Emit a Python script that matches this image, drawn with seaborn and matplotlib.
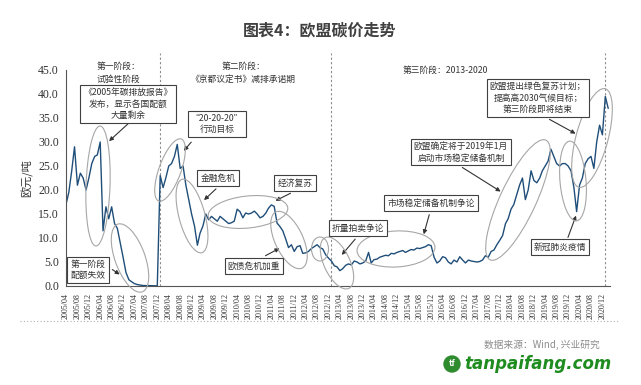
import pandas as pd
import numpy as np
import matplotlib
matplotlib.use('Agg')
import matplotlib.pyplot as plt
import matplotlib.transforms as mtransforms
from matplotlib.patches import Ellipse, Circle
from matplotlib.lines import Line2D
import seaborn as sns

# --- data: monthly EUA price (EUR/t) ---
phase1_start = '2005-04-01'
phase1_prices = [17.0, 19.5, 24.0, 29.0, 21.0, 23.5, 22.5, 20.0, 22.5,
                 25.5, 27.0, 27.3, 30.0, 11.5, 16.5, 14.0, 16.5, 13.0, 12.0, 9.0, 6.0,
                 2.8, 1.3, 0.9, 0.5, 0.3, 0.2, 0.1, 0.1, 0.08, 0.06, 0.04, 0.03]

phase2_start = '2008-01-01'
phase2_prices = [23.0, 20.5, 22.5, 25.0, 25.5, 27.0, 29.5, 24.5, 25.0, 21.0, 18.0, 15.0,
                 12.5, 8.5, 11.0, 12.5, 15.0, 13.8, 14.5, 14.0, 13.5, 14.5, 14.0, 13.5,
                 13.0, 13.2, 13.5, 16.0, 15.5, 14.2, 15.2, 15.0, 15.2, 15.6, 15.0, 14.2,
                 14.5, 15.2, 16.2, 16.9, 16.6, 13.1, 12.4, 11.5, 9.8, 8.0, 8.6, 7.2,
                 8.2, 8.4, 6.8, 6.9, 7.2, 7.8, 8.2, 8.6, 8.0, 7.7, 6.5, 5.8]

phase3_start = '2013-01-01'
phase3_prices = [5.2, 4.2, 4.0, 3.2, 3.6, 4.3, 4.6, 4.4, 5.2, 5.0, 4.6, 4.8,
                 5.2, 7.0, 4.8, 5.5, 5.6, 6.0, 6.2, 6.4, 6.3, 6.8, 6.7, 7.0,
                 7.2, 7.4, 7.0, 7.3, 7.6, 7.5, 7.9, 7.8, 8.0, 8.2, 8.6, 8.4,
                 6.0, 4.8, 5.2, 6.1, 5.9, 5.0, 4.6, 5.4, 5.0, 6.1, 5.4, 4.8,
                 5.4, 5.2, 5.1, 5.0, 5.1, 5.4, 6.3, 6.0, 7.2, 7.5, 8.6, 9.5,
                 10.5, 13.0, 14.0, 16.0, 17.0, 19.0, 21.0, 22.5, 18.0, 20.0, 24.0, 22.0,
                 21.5, 22.5, 24.0, 25.0, 26.0, 28.5, 27.0, 25.5, 25.0, 25.5, 25.5, 25.0,
                 24.0, 20.5, 15.5, 21.0, 22.5, 25.5, 26.5, 27.0, 24.5, 30.0, 33.5, 31.5,
                 39.5, 37.0]

phase_bounds = ['2008-01-01', '2013-01-01', '2021-01-01']
yticks = np.arange(0, 46, 5)

frames = []
for start, vals in [(phase1_start, phase1_prices), (phase2_start, phase2_prices), (phase3_start, phase3_prices)]:
    frames.append(pd.DataFrame({'date': pd.date_range(start, periods=len(vals), freq='MS'), 'price': vals}))
df = pd.concat(frames, ignore_index=True)

# --- figure ---
sns.set_style('white')
plt.rcParams['font.family'] = ['Noto Sans CJK SC', 'DejaVu Sans']
W, H = 641, 385
fig = plt.figure(figsize=(W / 100, H / 100), dpi=100)
ax = fig.add_axes([66 / W, 1 - 286 / H, (610 - 66) / W, (286 - 70) / H])
px = mtransforms.Affine2D().scale(1 / W, -1 / H).translate(0, 1) + fig.transFigure

sns.lineplot(data=df, x='date', y='price', ax=ax, color='#1f4e79', linewidth=1.0)

for b in phase_bounds:
    ax.axvline(pd.Timestamp(b), ymin=0, ymax=1.08, color='#8c8c8c', linestyle=(0, (2, 2)),
               linewidth=0.8, clip_on=False, zorder=0)

ax.set_ylim(0, 45)
ax.set_yticks(yticks)
ax.set_yticklabels([f'{v:.1f}' for v in yticks], family='Liberation Serif', fontsize=8.5, color='#333333')
xt = pd.date_range('2005-04-01', '2020-12-01', freq='4MS')
ax.set_xticks(xt)
ax.set_xticklabels([d.strftime('%Y/%m') for d in xt], rotation=90, family='Liberation Serif',
                   fontsize=5.8, color='#333333')
ax.set_xlim(pd.Timestamp('2005-04-01'), pd.Timestamp('2021-02-20'))
ax.tick_params(axis='both', direction='out', length=3, width=0.7, color='#555555', pad=2)
ax.set_xlabel('')
ax.set_ylabel('欧元/吨', fontsize=8, color='#333333', labelpad=4)
sns.despine(ax=ax)
for s in ['left', 'bottom']:
    ax.spines[s].set_color('#555555')
    ax.spines[s].set_linewidth(0.8)

# ellipses (pixel coords: cx, cy, w, h, angle)
ellipses = [(98, 186, 24, 120, 2), (130, 258, 30, 72, -20), (170, 170, 22, 66, 20),
            (192, 216, 26, 76, -15), (248, 212, 80, 32, -6), (289, 240, 28, 62, -25),
            (320, 249, 17, 24, 0), (337, 263, 26, 56, -25), (396, 249, 78, 36, -3),
            (518, 200, 36, 132, 25), (573, 181, 26, 80, -5), (592, 138, 32, 102, 15)]
for cx, cy, w, h, a in ellipses:
    fig.add_artist(Ellipse((cx, cy), w, h, angle=a, transform=px, fill=False,
                           ec='#a6a6a6', lw=0.8, zorder=3))

# phase labels
fs = 6.3
fig.text(118, 73, '第一阶段：\n试验性阶段', transform=px, ha='center', va='center',
         fontsize=fs, color='#333333', linespacing=1.5)
fig.text(243, 73, '第二阶段：\n《京都议定书》减排承诺期', transform=px, ha='center', va='center',
         fontsize=fs, color='#333333', linespacing=1.5)
fig.text(445, 70, '第三阶段：2013-2020', transform=px, ha='center', va='center',
         fontsize=fs, color='#333333')

# boxed notes: (x, y, text, arrow_from, arrow_to)
notes = [
    (128, 104, '《2005年碳排放报告》\n发布，显示各国配额\n大量剩余', (130, 122), (107, 143)),
    (217, 124, '“20-20-20”\n行动目标', (193, 140), (182, 153)),
    (218, 178, '金融危机', (218, 187), (202, 202)),
    (295, 183, '经济复苏', (293, 192), (273, 202)),
    (254, 266, '欧债危机加重', (263, 257), (282, 247)),
    (358, 228, '折量拍卖争论', (357, 237), (340, 257)),
    (431, 203, '市场稳定储备机制争论', (430, 212), (423, 237)),
    (461, 152, '欧盟确定将于2019年1月\n启动市场稳定储备机制', (460, 166), (503, 193)),
    (538, 98, '欧盟提出绿色复苏计划；\n提高高2030气候目标；\n第三阶段即将结束', (547, 118), (578, 135)),
    (560, 247, '新冠肺炎疫情', (567, 240), (577, 213)),
    (88, 270, '第一阶段\n配额失效', (110, 268), (122, 276)),
]
for x, y, t, a0, a1 in notes:
    fig.text(x, y, t, transform=px, ha='center', va='center', fontsize=fs, color='#333333',
             linespacing=1.4, zorder=5,
             bbox=dict(boxstyle='square,pad=0.35', fc='white', ec='#404040', lw=0.8))
    ax.annotate('', xy=a1, xytext=a0, xycoords=px, textcoords=px,
                arrowprops=dict(arrowstyle='-|>', color='#333333', lw=0.8, mutation_scale=6))

# title and footer
fig.text(320, 30, '图表4：欧盟碳价走势', transform=px, ha='center', va='center',
         fontsize=11.5, fontweight='bold', color='#404040')
fig.add_artist(Line2D([20, 620], [321, 321], transform=px, color='#b0b0b0', lw=0.8,
                      linestyle=(0, (1, 2))))
fig.text(600, 345, '数据来源：Wind, 兴业研究', transform=px, ha='right', va='center',
         fontsize=7, color='#8c8c8c')
fig.add_artist(Circle((452, 364), 8, transform=px, color='#2e8b2e'))
fig.text(452, 364, 'tf', transform=px, ha='center', va='center', fontsize=6,
         fontweight='bold', color='white')
fig.text(464, 364, 'tanpaifang.com', transform=px, ha='left', va='center', fontsize=12,
         fontweight='bold', style='italic', color='#1e8c1e', family='DejaVu Sans')

fig.savefig('out.png', dpi=100)
